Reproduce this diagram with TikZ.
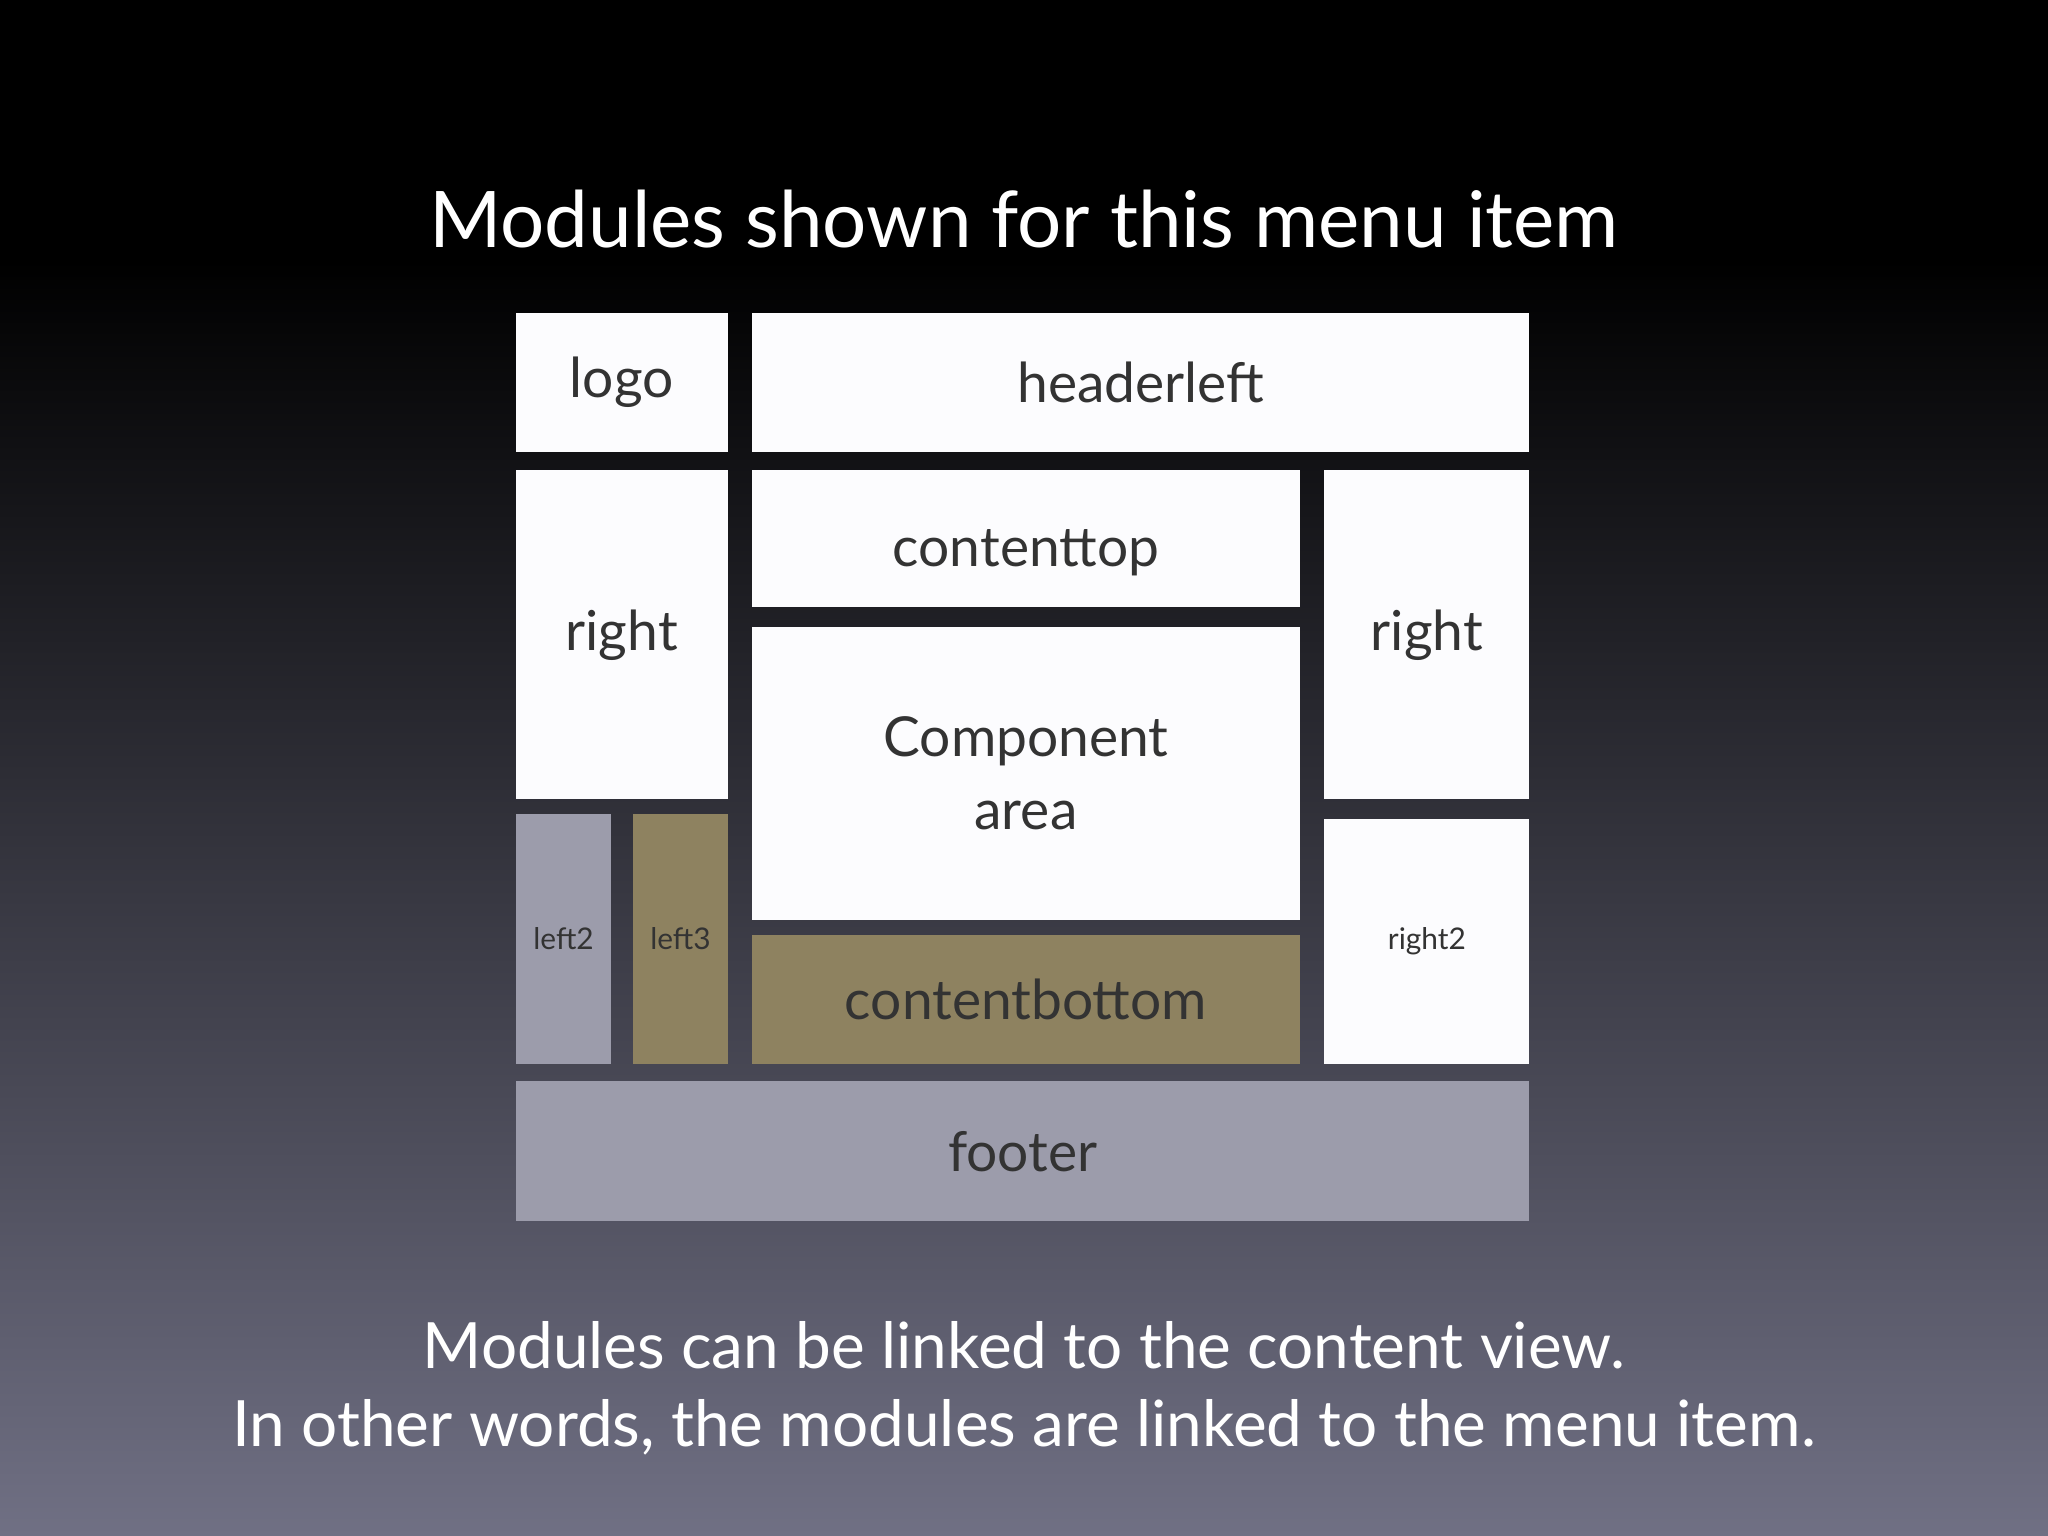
\documentclass[tikz,border=0pt]{standalone}
\usepackage{fontspec}
\setmainfont{Lato}
\begin{document}
\begin{tikzpicture}[x=0.01cm,y=-0.01cm,
  mod/.style={draw=none,inner sep=0pt,text=black!80,align=center},
  lab/.style={font=\fontsize{12}{14}\selectfont}]
\useasboundingbox (0,0) rectangle (1568,1176);
\fill[black] (0,0) rectangle (1568,200);
\shade[top color=black,middle color={rgb,255:red,36;green,36;blue,58},bottom color={rgb,255:red,112;green,112;blue,132}] (0,199) rectangle (1568,1176);
\definecolor{wbox}{HTML}{FCFCFE}
\definecolor{gbox}{HTML}{9C9CAB}
\definecolor{obox}{HTML}{8E8260}
\node[text=white,font=\fontsize{17}{20}\selectfont] (title) at (784,168) {Modules shown for this menu item};
\fill[wbox] (395,240) rectangle (557,346) node[midway,mod,lab] (logo) {logo};
\fill[wbox] (576,240) rectangle (1171,346) node[midway,mod,lab] (hl) {headerleft};
\fill[wbox] (395,360) rectangle (557,612) node[midway,mod,lab] (r1) {right};
\fill[wbox] (576,360) rectangle (995,465) node[midway,mod,lab,yshift=-3pt] (ct) {contenttop};
\fill[wbox] (576,480) rectangle (995,704) node[midway,mod,lab] (ca) {Component\\[2pt]area};
\fill[wbox] (1014,360) rectangle (1171,612) node[midway,mod,lab] (r2) {right};
\fill[gbox] (395,623) rectangle (468,815) node[midway,mod,font=\fontsize{6.5}{8}\selectfont] (l2) {left2};
\fill[obox] (485,623) rectangle (557,815) node[midway,mod,font=\fontsize{6.5}{8}\selectfont] (l3) {left3};
\fill[obox] (576,716) rectangle (995,815) node[midway,mod,lab] (cb) {contentbottom};
\fill[wbox] (1014,627) rectangle (1171,815) node[midway,mod,font=\fontsize{6.5}{8}\selectfont] (r3) {right2};
\fill[gbox] (395,828) rectangle (1171,935) node[midway,mod,lab] (ft) {footer};
\node[text=white,font=\fontsize{13.9}{17}\selectfont,align=center] (cap) at (784,1063) {Modules can be linked to the content view.\\In other words, the modules are linked to the menu item.};
\end{tikzpicture}
\end{document}
